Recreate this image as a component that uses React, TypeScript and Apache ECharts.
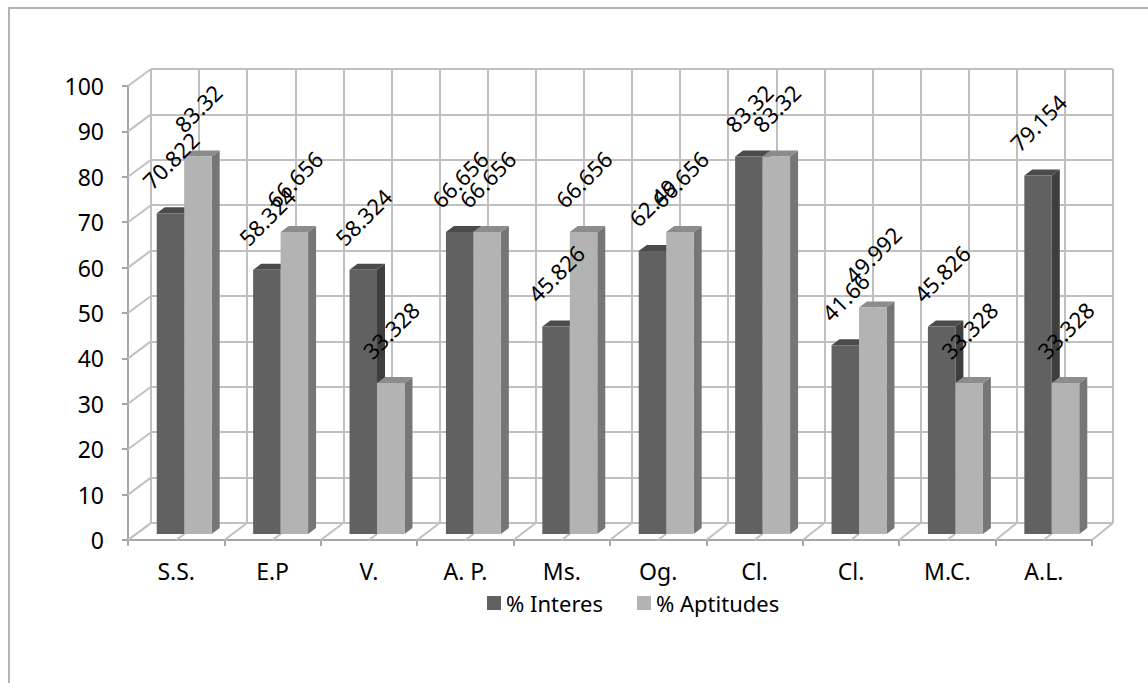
import React, { useEffect, useRef } from "react";
import * as echarts from "echarts";

const categories = ["S.S.", "E.P", "V.", "A. P.", "Ms.", "Og.", "Cl.", "Cl.", "M.C.", "A.L."];
const interes = [70.822, 58.324, 58.324, 66.656, 45.826, 62.49, 83.32, 41.66, 45.826, 79.154];
const aptitudes = [83.32, 66.656, 33.328, 66.656, 66.656, 66.656, 83.32, 49.992, 33.328, 33.328];
const seriesNames = ["% Interes", "% Aptitudes"];
const Y_MIN = 0;
const Y_MAX = 100;
const Y_STEP = 10;

const FONT = "Noto Sans";
const FS = 22;
const AXIS_FS = 23;

const FRONT = { left: 128, top: 86, width: 964, height: 454 };
const BACK = { left: 151, top: 69, width: 962, height: 454 };
const BARS = { left: 136, top: 81, width: 964, height: 453 };
const TOP_DX = 8;
const TOP_DY = -6;
const BAR_FRAC = 0.285;
const GRID_COLOR = "#c0c0c0";
const AXIS_COLOR = "#a6a6a6";
const SHADES = [
  { front: "#616161", top: "#4b4b4b", side: "#3e3e3e" },
  { front: "#b3b3b3", top: "#8c8c8c", side: "#767676" },
];

let measureCtx: CanvasRenderingContext2D | null = null;
function textWidth(t: string): number {
  if (!measureCtx) {
    measureCtx = document.createElement("canvas").getContext("2d");
  }
  if (!measureCtx) return t.length * FS * 0.55;
  measureCtx.font = `${FS}px "${FONT}"`;
  return measureCtx.measureText(t).width;
}

function barSeries(name: string, values: number[], idx: number) {
  const shade = SHADES[idx];
  return {
    type: "custom",
    name,
    xAxisIndex: 2,
    yAxisIndex: 2,
    z: 5,
    itemStyle: { color: shade.front },
    encode: { x: 0, y: 1 },
    data: values.map((v, i) => [i, v]),
    renderItem: (params: any, api: any) => {
      const cat = api.value(0);
      const val = api.value(1);
      const top = api.coord([cat, val]);
      const base = api.coord([cat, 0]);
      const w = api.size([1, 0])[0] * BAR_FRAC;
      const x0 = idx === 0 ? top[0] - w : top[0];
      const ty = top[1];
      const by = base[1];
      return {
        type: "group",
        children: [
          {
            type: "polygon",
            shape: { points: [[x0 + w, ty], [x0 + w + TOP_DX, ty + TOP_DY], [x0 + w + TOP_DX, by + TOP_DY], [x0 + w, by]] },
            style: { fill: shade.side },
          },
          {
            type: "polygon",
            shape: { points: [[x0, ty], [x0 + w, ty], [x0 + w + TOP_DX, ty + TOP_DY], [x0 + TOP_DX, ty + TOP_DY]] },
            style: { fill: shade.top },
          },
          {
            type: "rect",
            shape: { x: x0, y: ty, width: w, height: by - ty },
            style: { fill: shade.front },
          },
        ],
      };
    },
  };
}

function labelSeries(name: string, values: number[], idx: number) {
  return {
    type: "custom",
    name,
    xAxisIndex: 2,
    yAxisIndex: 2,
    z: 10,
    encode: { x: 0, y: 1 },
    data: values.map((v, i) => [i, v]),
    renderItem: (params: any, api: any) => {
      const cat = api.value(0);
      const val = api.value(1);
      const top = api.coord([cat, val]);
      const w = api.size([1, 0])[0] * BAR_FRAC;
      const cx = idx === 0 ? top[0] - w / 2 : top[0] + w / 2;
      const txt = String(values[params.dataIndex]);
      const off = 23 + 0.354 * (textWidth(txt) + 16);
      return {
        type: "text",
        x: cx,
        y: top[1] - off,
        rotation: Math.PI / 4,
        style: {
          text: txt,
          fontSize: FS,
          fontFamily: FONT,
          fill: "#000",
          align: "center",
          verticalAlign: "middle",
        },
      };
    },
  };
}

function buildGraphics() {
  const g: any[] = [];
  g.push({
    type: "rect",
    shape: { x: 9, y: 8, width: 1200, height: 700 },
    style: { fill: "none", stroke: "#b4b4b4", lineWidth: 2 },
    z: 0,
    silent: true,
  });
  for (let v = Y_MIN; v <= Y_MAX; v += Y_STEP) {
    const f = 1 - (v - Y_MIN) / (Y_MAX - Y_MIN);
    g.push({
      type: "line",
      shape: {
        x1: FRONT.left,
        y1: FRONT.top + FRONT.height * f,
        x2: BACK.left,
        y2: BACK.top + BACK.height * f,
      },
      style: { stroke: GRID_COLOR, lineWidth: 2 },
      z: 1,
      silent: true,
    });
  }
  const divs = categories.length * 2;
  for (let j = 0; j <= divs; j++) {
    g.push({
      type: "line",
      shape: {
        x1: FRONT.left + (FRONT.width * j) / divs,
        y1: FRONT.top + FRONT.height,
        x2: BACK.left + (BACK.width * j) / divs,
        y2: BACK.top + BACK.height,
      },
      style: { stroke: GRID_COLOR, lineWidth: 2 },
      z: 1,
      silent: true,
    });
  }
  return g;
}

export default function App() {
  const ref = useRef<HTMLDivElement>(null);
  useEffect(() => {
    document.body.style.margin = "0";
    if (!ref.current) return;
    const chart = echarts.init(ref.current, null, { renderer: "svg" });
    const divs = categories.length * 2;
    const option: any = {
      animation: false,
      backgroundColor: "#ffffff",
      color: [SHADES[0].front, SHADES[1].front],
      textStyle: { fontFamily: FONT },
      grid: [
        { ...BACK, containLabel: false },
        { ...FRONT, containLabel: false },
        { ...BARS, containLabel: false },
      ],
      xAxis: [
        {
          type: "value",
          gridIndex: 0,
          min: 0,
          max: divs,
          interval: 1,
          axisLine: { show: false },
          axisTick: { show: false },
          axisLabel: { show: false },
          splitLine: { show: true, lineStyle: { color: GRID_COLOR, width: 2 } },
        },
        {
          type: "category",
          gridIndex: 1,
          data: categories,
          axisLine: { show: true, lineStyle: { color: AXIS_COLOR, width: 2 } },
          axisTick: { show: true, length: 6, lineStyle: { color: AXIS_COLOR, width: 2 } },
          axisLabel: { fontSize: AXIS_FS, color: "#000", margin: 19, fontFamily: FONT, interval: 0 },
          splitLine: { show: false },
        },
        {
          type: "category",
          gridIndex: 2,
          data: categories,
          show: false,
        },
      ],
      yAxis: [
        {
          type: "value",
          gridIndex: 0,
          min: Y_MIN,
          max: Y_MAX,
          interval: Y_STEP,
          axisLine: { show: false },
          axisTick: { show: false },
          axisLabel: { show: false },
          splitLine: { show: true, lineStyle: { color: GRID_COLOR, width: 2 } },
        },
        {
          type: "value",
          gridIndex: 1,
          min: Y_MIN,
          max: Y_MAX,
          interval: Y_STEP,
          axisLine: { show: true, lineStyle: { color: AXIS_COLOR, width: 2 } },
          axisTick: { show: true, length: 6, lineStyle: { color: AXIS_COLOR, width: 2 } },
          axisLabel: { fontSize: AXIS_FS, color: "#000", margin: 24, fontFamily: FONT },
          splitLine: { show: false },
        },
        {
          type: "value",
          gridIndex: 2,
          min: Y_MIN,
          max: Y_MAX,
          show: false,
        },
      ],
      legend: {
        data: seriesNames,
        left: 482,
        top: 587,
        itemWidth: 14,
        itemHeight: 14,
        itemGap: 34,
        icon: "rect",
        selectedMode: false,
        textStyle: { fontSize: FS, fontFamily: FONT, color: "#000" },
      },
      graphic: buildGraphics(),
      series: [
        barSeries(seriesNames[0], interes, 0),
        barSeries(seriesNames[1], aptitudes, 1),
        labelSeries("lbl-interes", interes, 0),
        labelSeries("lbl-aptitudes", aptitudes, 1),
      ],
    };
    chart.setOption(option);
    return () => {
      chart.dispose();
    };
  }, []);
  return <div ref={ref} style={{ width: 1148, height: 683 }} />;
}
